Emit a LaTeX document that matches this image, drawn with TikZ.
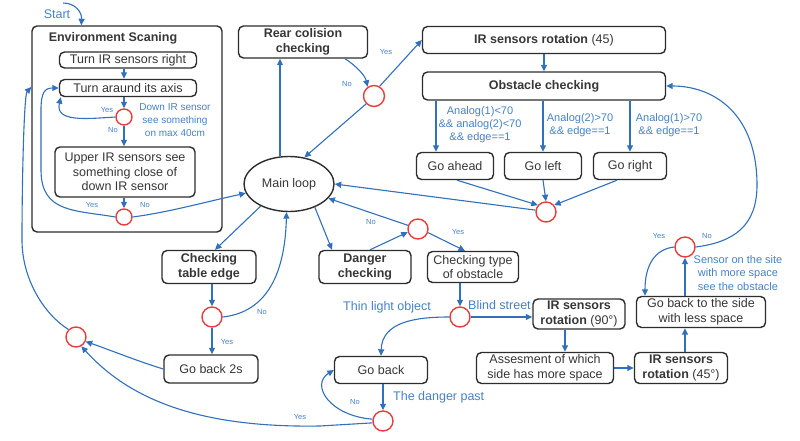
\documentclass[tikz,border=0pt]{standalone}
\usepackage{fontspec}
\setmainfont{Liberation Sans}
\usetikzlibrary{arrows.meta,shapes.geometric}
\definecolor{lnc}{RGB}{48,112,188}
\definecolor{lbc}{RGB}{70,130,200}
\definecolor{rdc}{RGB}{235,60,60}
\definecolor{bxc}{RGB}{45,45,45}
\definecolor{txc}{RGB}{55,55,55}
\begin{document}
\begin{tikzpicture}[x=1pt,y=-1pt,
  box/.style={draw=bxc,line width=1.4pt,rounded corners=5pt,fill=white,text=txc,font=\fontsize{12.5}{14.5}\selectfont,align=center,inner sep=0pt},
  bbox/.style={box,font=\fontsize{12.5}{14.5}\selectfont\bfseries},
  dec/.style={circle,draw=rdc,line width=1.4pt,fill=white,minimum size=20pt,inner sep=0pt},
  sdec/.style={dec,minimum size=16pt},
  arr/.style={draw=lnc,line width=1.1pt,-{Triangle[length=6.5pt,width=6pt]}},
  lab/.style={text=lbc,font=\fontsize{11}{13}\selectfont,align=center,inner sep=0pt},
  blab/.style={text=lbc,font=\fontsize{12.5}{14}\selectfont,inner sep=0pt},
  yn/.style={text=lbc,font=\fontsize{7.5}{8}\selectfont,inner sep=0pt},
]
\fill[white] (0,0) rectangle (800,441);
\useasboundingbox (0,0) rectangle (800,441);

% Environment scanning block
\node[box,minimum width=190pt,minimum height=206pt] (env) at (127,129) {};
\node[text=txc,font=\fontsize{12.5}{14}\selectfont\bfseries,inner sep=0pt] (envtitle) at (113,38) {Environment Scaning};
\node[box,minimum width=137pt,minimum height=16pt] (irright) at (128,60) {Turn IR sensors right};
\node[box,minimum width=137pt,minimum height=17pt] (turn) at (128,88) {Turn araund its axis};
\node[sdec] (d1) at (124,117) {};
\node[box,minimum width=140pt,minimum height=50pt] (upper) at (125,172) {Upper IR sensors see\\something close of\\down IR sensor};
\node[sdec] (d2) at (124,217) {};

% Main and others
\node[ellipse,draw=bxc,line width=1.4pt,fill=white,text=txc,font=\fontsize{12.5}{14}\selectfont,minimum width=90pt,minimum height=55pt,inner sep=0pt] (main) at (289,184) {Main loop};
\node[bbox,minimum width=129pt,minimum height=32pt] (rear) at (303,42) {Rear colision\\checking};
\node[dec,minimum size=21pt] (d3) at (374,96) {};
\node[box,minimum width=243pt,minimum height=27pt] (irrot) at (544,40) {\textbf{IR sensors rotation} (45)};
\node[bbox,minimum width=243pt,minimum height=28pt] (obst) at (544,86) {Obstacle checking};
\node[box,minimum width=77pt,minimum height=27pt] (ahead) at (455,166) {Go ahead};
\node[box,minimum width=77pt,minimum height=27pt] (left) at (543,166) {Go left};
\node[box,minimum width=73pt,minimum height=27pt] (right) at (630,166) {Go right};
\node[dec] (d4) at (546,212) {};
\node[bbox,minimum width=92pt,minimum height=33pt] (danger) at (365,267) {Danger\\checking};
\node[dec] (d5) at (418,229) {};
\node[box,minimum width=91pt,minimum height=31pt] (ctype) at (473,267) {Checking type\\of obstacle};
\node[dec] (d6) at (460,317) {};
\node[box,minimum width=92pt,minimum height=30pt] (rot90) at (579,314) {\textbf{IR sensors}\\\textbf{rotation} (90°)};
\node[box,minimum width=137pt,minimum height=31pt] (assess) at (545,368) {Assesment of which\\side has more space};
\node[box,minimum width=93pt,minimum height=31pt] (rot45) at (681,368) {\textbf{IR sensors}\\\textbf{rotation} (45°)};
\node[box,minimum width=129pt,minimum height=31pt] (goside) at (701,312) {Go back to the side\\with less space};
\node[dec] (d7) at (685,247) {};
\node[box,minimum width=93pt,minimum height=27pt] (goback) at (381,370) {Go back};
\node[dec] (d8) at (383,421) {};
\node[bbox,minimum width=94pt,minimum height=33pt] (table) at (209,267) {Checking\\table edge};
\node[dec] (d9) at (212,317) {};
\node[box,minimum width=94pt,minimum height=28pt] (goback2) at (211,369) {Go back 2s};
\node[dec] (d10) at (76,337) {};

% Labels
\node[blab] (start) at (57,14) {Start};
\coordinate (startc) at (63,3);
\node[lab,font=\fontsize{10}{13}\selectfont] (l1) at (175,120) {Down IR sensor\\see something\\on max 40cm};
\node[lab] (la1) at (480,125) {Analog(1)<70\\\&\& analog(2)<70\\\&\& edge==1};
\node[lab] (la2) at (580,125) {Analog(2)>70\\\&\& edge==1};
\node[lab] (la3) at (669,125) {Analog(1)>70\\\&\& edge==1};
\node[lab,font=\fontsize{11}{13.5}\selectfont] (lsens) at (738,273) {Sensor on the site\\with more space\\see the obstacle};
\node[blab] (lthin) at (387,307) {Thin light object};
\node[blab,anchor=west] (lblind) at (468,305) {Blind street};
\node[blab,anchor=west] (lpast) at (393,397) {The danger past};
\node[yn] (y1) at (107,110) {Yes};
\node[yn] (n1) at (113,130) {No};
\node[yn] (y2) at (92,205) {Yes};
\node[yn] (n2) at (145,205) {No};
\node[yn] (n3) at (347,84) {No};
\node[yn] (y3) at (386,52) {Yes};
\node[yn] (n5) at (371,222) {No};
\node[yn] (y5) at (458,232) {Yes};
\node[yn] (n9) at (262,312) {No};
\node[yn] (y9) at (227,342) {Yes};
\node[yn] (y7) at (659,236) {Yes};
\node[yn] (n7) at (707,236) {No};
\node[yn] (n8) at (355,402) {No};
\node[yn] (y8) at (300,417) {Yes};

% Connectors
\draw[arr] (startc) .. controls (75,3) and (82,12) .. ([xshift=50pt]env.north west);
\draw[arr] (irright.south -| d1) -- (turn.north -| d1);
\draw[arr] (turn.south -| d1) -- (d1);
\draw[arr] (d1.west) .. controls (85,119) and (55,122) .. ([xshift=2pt]turn.south west);
\draw[arr] (d1) -- (upper.north -| d1);
\draw[arr] (upper.south -| d2) -- (d2);
\draw[arr] (d2.west) .. controls (75,210) and (41,213) .. (41,170) -- (41,110) .. controls (41,92) and (45,88) .. (turn.west);
\draw[arr] (d2.east) .. controls (170,212) and (205,202) .. (main.192);
\draw[arr] (d10.135) .. controls (45,315) and (22,280) .. (22,240) .. controls (22,180) and (24,95) .. ([yshift=42pt]env.west);
\draw[arr] ([xshift=-9pt]main.north) -- ([xshift=-23pt]rear.south);
\draw[arr] ([xshift=42pt]rear.south) .. controls (355,65) and (365,75) .. (d3.125);
\draw[arr] (d3.60) -- (irrot.west);
\draw[arr] (d3.225) -- (main.60);
\draw[arr] (irrot) -- (obst);
\draw[arr] ([xshift=-108pt]obst.south) -- ([xshift=-19pt]ahead.north);
\draw[arr] (obst.south -| left) -- (left.north);
\draw[arr] (obst.south -| right) -- (right.north);
\draw[arr] ([xshift=2pt]ahead.south) -- (d4.140);
\draw[arr] (left.south) -- (d4.north);
\draw[arr] ([xshift=-13pt]right.south) -- (d4.40);
\draw[arr] (d4.170) -- (main.east);
\draw[arr] (main.218) -- ([xshift=6pt]table.north);
\draw[arr] (table.south -| d9) -- (d9);
\draw[arr] (d9.east) .. controls (268,312) and (285,272) .. (main.265);
\draw[arr] (d9) -- (goback2.north -| d9);
\draw[arr] (goback2.west) .. controls (140,362) and (110,350) .. (d10.335);
\draw[arr] (d8.190) -- (320,426) .. controls (200,428) and (130,400) .. (d10.300);
\draw[arr] (main.318) -- ([xshift=-33pt]danger.north);
\draw[arr] ([xshift=5pt]danger.north) -- (d5.197);
\draw[arr] (d5.160) -- (main.340);
\draw[arr] (d5.340) -- ([xshift=-8pt]ctype.north);
\draw[arr] ([xshift=-13pt]ctype.south) -- (d6);
\draw[arr] (d6) -- (d6 -| rot90.west);
\draw[arr] (d6.west) .. controls (415,317) and (382,322) .. (goback.north);
\draw[arr] (goback.south -| d8) -- (d8);
\draw[arr] (d8.170) .. controls (330,416) and (310,385) .. (goback.west);
\draw[arr] ([xshift=-14pt]rot90.south) -- ([xshift=20pt]assess.north);
\draw[arr] (assess.east) -- (rot45.west);
\draw[arr] ([xshift=4pt]rot45.north) -- ([xshift=-16pt]goside.south);
\draw[arr] ([xshift=-16pt]goside.north) -- (d7.south);
\draw[arr] (d7.west) .. controls (655,249) and (645,265) .. ([xshift=-56pt]goside.north);
\draw[arr] (d7.east) .. controls (735,242) and (757,225) .. (757,185) .. controls (757,115) and (715,86) .. (obst.east);
\end{tikzpicture}
\end{document}
